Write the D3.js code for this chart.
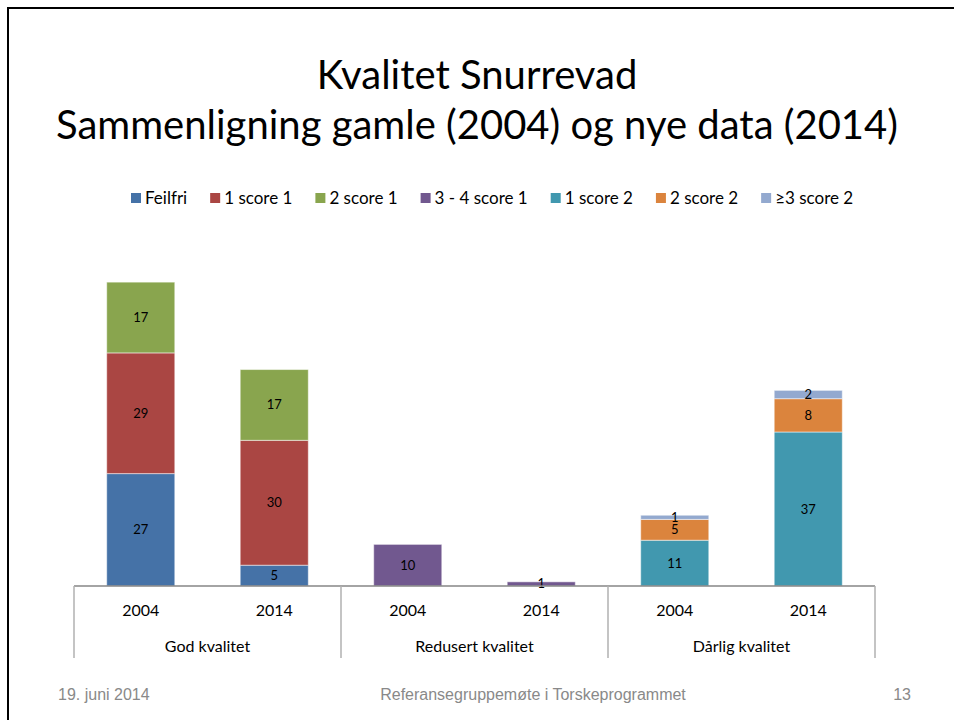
<!DOCTYPE html>
<html>
<head>
<meta charset="utf-8">
<script src="https://cdn.jsdelivr.net/npm/d3@7"></script>
<style>
  body { margin: 0; background: #fff; }
  svg { display: block; }
</style>
</head>
<body>
<div id="chart"></div>
<script>
// chart data
var groups = ["God kvalitet", "Redusert kvalitet", "Dårlig kvalitet"];
var years = ["2004", "2014"];
var seriesNames = ["Feilfri", "1 score 1", "2 score 1", "3 - 4 score 1", "1 score 2", "2 score 2", "≥3 score 2"];
var seriesColors = ["#4572A7", "#AA4643", "#89A54E", "#71588F", "#4198AF", "#DB843D", "#93A9CF"];
// one value per bar: God 2004, God 2014, Redusert 2004, Redusert 2014, Dårlig 2004, Dårlig 2014
var feilfri   = [27, 5, 0, 0, 0, 0];
var score1_1  = [29, 30, 0, 0, 0, 0];
var score1_2  = [17, 17, 0, 0, 0, 0];
var score1_34 = [0, 0, 10, 1, 0, 0];
var score2_1  = [0, 0, 0, 0, 11, 37];
var score2_2  = [0, 0, 0, 0, 5, 8];
var score2_3  = [0, 0, 0, 0, 1, 2];

var titleLines = ["Kvalitet Snurrevad", "Sammenligning gamle (2004) og nye data (2014)"];
var footerLeft = "19. juni 2014";
var footerMid = "Referansegruppemøte i Torskeprogrammet";
var footerRight = "13";

var width = 954;
var height = 720;
var font = "Lato, 'Open Sans', sans-serif";

var svg = d3.select("#chart")
    .append("svg")
    .attr("width", width)
    .attr("height", height);

// slide frame
svg.append("path")
    .attr("d", "M8,720 V8 H954")
    .attr("fill", "none")
    .attr("stroke", "#000")
    .attr("stroke-width", 2);

// title
svg.append("g")
    .selectAll("text")
    .data(titleLines)
    .enter()
    .append("text")
    .attr("x", 477)
    .attr("y", function(d, i) { return 89 + i * 50; })
    .attr("text-anchor", "middle")
    .style("font-family", font)
    .style("font-size", "40px")
    .style("fill", "#000")
    .text(function(d) { return d; });

// build rows
var allSeries = [feilfri, score1_1, score1_2, score1_34, score2_1, score2_2, score2_3];
var bars = [];
groups.forEach(function(g, gi) {
    years.forEach(function(y, yi) {
        var idx = gi * years.length + yi;
        var row = { key: g + "|" + y, group: g, year: y };
        seriesNames.forEach(function(s, si) { row[s] = allSeries[si][idx]; });
        bars.push(row);
    });
});

var stacked = d3.stack().keys(seriesNames)(bars);

var x = d3.scaleBand()
    .domain(bars.map(function(d) { return d.key; }))
    .range([74, 875])
    .paddingInner(0.49)
    .paddingOuter(0.245);

var xGroup = d3.scaleBand()
    .domain(groups)
    .range([74, 875]);

var y = d3.scaleLinear()
    .domain([0, 80])
    .range([586, 253]);

var color = d3.scaleOrdinal()
    .domain(seriesNames)
    .range(seriesColors);

var layer = svg.append("g")
    .selectAll("g")
    .data(stacked)
    .enter()
    .append("g")
    .attr("fill", function(d) { return color(d.key); });

layer.selectAll("rect")
    .data(function(d) { return d.filter(function(p) { return p[1] - p[0] > 0; }); })
    .enter()
    .append("rect")
    .attr("x", function(d) { return x(d.data.key); })
    .attr("y", function(d) { return y(d[1]); })
    .attr("width", x.bandwidth())
    .attr("height", function(d) { return y(d[0]) - y(d[1]); })
    .attr("stroke", "rgba(255,255,255,0.5)")
    .attr("stroke-width", 1);

layer.selectAll("text")
    .data(function(d) { return d.filter(function(p) { return p[1] - p[0] > 0; }); })
    .enter()
    .append("text")
    .attr("x", function(d) { return x(d.data.key) + x.bandwidth() / 2; })
    .attr("y", function(d) { return (y(d[0]) + y(d[1])) / 2; })
    .attr("dy", "0.35em")
    .attr("text-anchor", "middle")
    .style("font-family", font)
    .style("font-size", "13px")
    .style("fill", "#000")
    .text(function(d) { return d[1] - d[0]; });

// category axis
var axis = svg.append("g");

axis.append("line")
    .attr("x1", 74).attr("x2", 875)
    .attr("y1", 586).attr("y2", 586)
    .attr("stroke", "#868686")
    .attr("stroke-width", 1.5);

var dividers = groups.map(function(g) { return xGroup(g); }).concat([xGroup.range()[1]]);
axis.selectAll(".divider")
    .data(dividers)
    .enter()
    .append("line")
    .attr("class", "divider")
    .attr("x1", function(d) { return d; })
    .attr("x2", function(d) { return d; })
    .attr("y1", 586)
    .attr("y2", 658)
    .attr("stroke", "#b0b0b0")
    .attr("stroke-width", 1.5);

axis.selectAll(".year")
    .data(bars)
    .enter()
    .append("text")
    .attr("class", "year")
    .attr("x", function(d) { return x(d.key) + x.bandwidth() / 2; })
    .attr("y", 616)
    .attr("text-anchor", "middle")
    .style("font-family", font)
    .style("font-size", "16px")
    .text(function(d) { return d.year; });

axis.selectAll(".group")
    .data(groups)
    .enter()
    .append("text")
    .attr("class", "group")
    .attr("x", function(d) { return xGroup(d) + xGroup.bandwidth() / 2; })
    .attr("y", 652)
    .attr("text-anchor", "middle")
    .style("font-family", font)
    .style("font-size", "16px")
    .text(function(d) { return d; });

// legend
var legend = svg.append("g");
var lx = 131;
seriesNames.forEach(function(name) {
    var item = legend.append("g").attr("transform", "translate(" + lx + ",198)");
    item.append("rect")
        .attr("x", 0).attr("y", -5)
        .attr("width", 10).attr("height", 10)
        .attr("fill", color(name));
    var t = item.append("text")
        .attr("x", 14)
        .attr("dy", "0.35em")
        .style("font-family", font)
        .style("font-size", "17px")
        .text(name);
    lx += 14 + t.node().getComputedTextLength() + 23;
});

// footer
var footer = svg.append("g")
    .style("font-family", "'Liberation Sans', Arial, sans-serif")
    .style("font-size", "16px")
    .style("fill", "#898989");
footer.append("text").attr("x", 58).attr("y", 700).text(footerLeft);
footer.append("text").attr("x", 533).attr("y", 700).attr("text-anchor", "middle").text(footerMid);
footer.append("text").attr("x", 911).attr("y", 700).attr("text-anchor", "end").text(footerRight);
</script>
</body>
</html>
